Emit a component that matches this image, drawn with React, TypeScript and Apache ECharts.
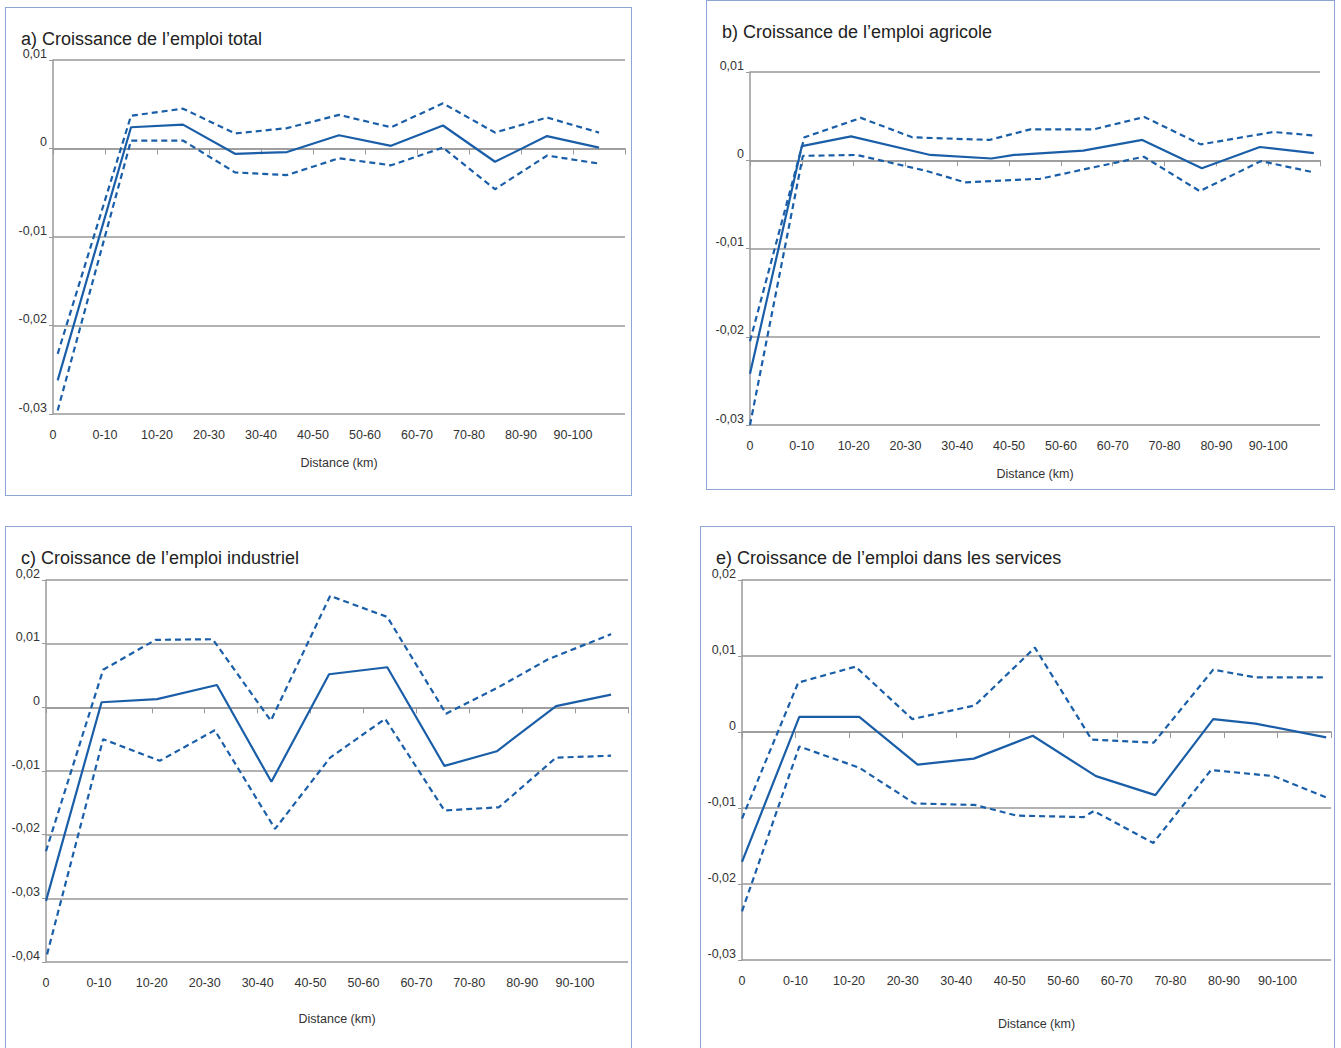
import { useEffect, useRef } from "react";
import * as echarts from "echarts";

const tickLabels = ["0", "0-10", "10-20", "20-30", "30-40", "40-50", "50-60", "60-70", "70-80", "80-90", "90-100", ""];

// a) emploi total
const aX = [0.09, 1.5, 2.5, 3.5, 4.5, 5.5, 6.5, 7.5, 8.5, 9.5, 10.5];
const aMid = [-0.0262, 0.0024, 0.0027, -0.0006, -0.0004, 0.0015, 0.0003, 0.0026, -0.0015, 0.0014, 0.0001];
const aUp = [-0.0232, 0.0037, 0.0045, 0.0017, 0.0023, 0.0038, 0.0024, 0.0051, 0.0018, 0.0035, 0.0018];
const aLow = [-0.0296, 0.0009, 0.0009, -0.0027, -0.003, -0.0011, -0.0019, 0.0001, -0.0046, -0.0008, -0.0017];

// b) emploi agricole
const bXMid = [0, 1.0, 1.95, 3.48, 4.66, 5.1, 6.43, 7.57, 8.72, 9.84, 10.88];
const bMid = [-0.0242, 0.0016, 0.0027, 0.0006, 0.0002, 0.0006, 0.0011, 0.0023, -0.0009, 0.0015, 0.0008];
const bXUp = [0, 1.05, 2.14, 3.13, 4.62, 5.41, 6.63, 7.61, 8.7, 10.1, 10.9];
const bUp = [-0.0205, 0.0026, 0.0048, 0.0026, 0.0023, 0.0035, 0.0035, 0.0049, 0.0018, 0.0032, 0.0028];
const bXLow = [0, 1.02, 2.06, 3.4, 4.15, 5.6, 6.55, 7.6, 8.68, 9.86, 10.9];
const bLow = [-0.03, 0.0005, 0.0006, -0.0012, -0.0025, -0.0021, -0.0009, 0.0004, -0.0035, -0.0001, -0.0014];

// c) emploi industriel
const cXMid = [0, 1.05, 2.1, 3.23, 4.26, 5.35, 6.45, 7.53, 8.52, 9.64, 10.68];
const cMid = [-0.0304, 0.0008, 0.0013, 0.0035, -0.0117, 0.0052, 0.0063, -0.0092, -0.0069, 0.0002, 0.002];
const cXUp = [0, 1.08, 2.07, 3.15, 4.25, 5.37, 6.45, 7.56, 8.56, 9.48, 10.68];
const cUp = [-0.0226, 0.0059, 0.0106, 0.0107, -0.0021, 0.0175, 0.0142, -0.001, 0.0032, 0.0075, 0.0115];
const cXLow = [0.02, 1.08, 2.15, 3.19, 4.33, 5.37, 6.41, 7.53, 8.56, 9.64, 10.68];
const cLow = [-0.0388, -0.005, -0.0084, -0.0036, -0.0191, -0.0079, -0.0018, -0.0162, -0.0157, -0.0079, -0.0076];

// e) emploi dans les services
const eXMid = [0, 1.07, 2.19, 3.28, 4.33, 5.43, 6.61, 7.72, 8.8, 9.59, 10.91];
const eMid = [-0.0171, 0.002, 0.002, -0.0043, -0.0035, -0.0005, -0.0058, -0.0083, 0.0017, 0.0011, -0.0007];
const eXUp = [0, 1.05, 2.12, 3.18, 4.35, 5.47, 6.53, 7.69, 8.8, 9.58, 10.91];
const eUp = [-0.0114, 0.0065, 0.0086, 0.0017, 0.0035, 0.0111, -0.001, -0.0014, 0.0082, 0.0072, 0.0072];
const eXLow = [0, 1.07, 2.19, 3.22, 4.35, 5.13, 6.38, 6.57, 7.68, 8.76, 9.92, 10.91];
const eLow = [-0.0236, -0.0019, -0.0047, -0.0094, -0.0096, -0.011, -0.0112, -0.0104, -0.0146, -0.005, -0.0058, -0.0086];

const zip = (xs: number[], ys: number[]) => xs.map((x, i) => [x, ys[i]]);
const BLUE = "#1a5ea8";
const FONT = "Liberation Sans, Arial, sans-serif";

type PanelProps = {
  title: string;
  box: [number, number, number, number];
  grid: [number, number, number, number]; // left, top, right, bottom in page coords
  yMin: number;
  yMax: number;
  nameGap: number;
  mid: number[][];
  up: number[][];
  low: number[][];
};

function Panel(p: PanelProps) {
  const ref = useRef<HTMLDivElement>(null);
  const [bx, by, bw, bh] = p.box;
  useEffect(() => {
    if (!ref.current) return;
    const chart = echarts.init(ref.current, undefined, { renderer: "svg" });
    const line = (data: number[][], dashed: boolean) => ({
      type: "line",
      data,
      symbol: "none",
      lineStyle: { color: BLUE, width: 2.2, type: dashed ? [6, 4] : "solid" },
      z: 5,
    });
    chart.setOption({
      animation: false,
      title: {
        text: p.title,
        left: 10,
        top: 17,
        textStyle: { fontFamily: FONT, fontSize: 18, fontWeight: "normal", color: "#222" },
      },
      grid: {
        left: p.grid[0] - bx - 1,
        top: p.grid[1] - by - 1,
        width: p.grid[2] - p.grid[0],
        height: p.grid[3] - p.grid[1],
      },
      xAxis: {
        type: "value",
        min: 0,
        max: 11,
        interval: 1,
        name: "Distance (km)",
        nameLocation: "middle",
        nameGap: p.nameGap,
        nameTextStyle: { fontFamily: FONT, fontSize: 12.5, color: "#333" },
        axisLine: { lineStyle: { color: "#999", width: 1.5 } },
        axisTick: { show: true, length: 6, lineStyle: { color: "#999" } },
        axisLabel: {
          fontFamily: FONT,
          fontSize: 12.5,
          color: "#333",
          margin: 14,
          formatter: (v: number) => tickLabels[Math.round(v)] ?? "",
        },
        splitLine: { show: false },
      },
      yAxis: {
        type: "value",
        min: p.yMin,
        max: p.yMax,
        interval: 0.01,
        axisLine: { show: true, lineStyle: { color: "#999", width: 1.5 } },
        axisTick: { show: true, length: 4, lineStyle: { color: "#999" } },
        axisLabel: {
          fontFamily: FONT,
          fontSize: 12.5,
          color: "#333",
          margin: 6,
          verticalAlign: "bottom",
          formatter: (v: number) => (Math.abs(v) < 1e-9 ? "0" : v.toFixed(2).replace(".", ",")),
        },
        splitLine: { show: true, lineStyle: { color: "#999", width: 1.5 } },
      },
      series: [line(p.mid, false), line(p.up, true), line(p.low, true)],
    });
    return () => chart.dispose();
  }, []);
  return (
    <div
      style={{
        position: "absolute",
        left: bx,
        top: by,
        width: bw,
        height: bh,
        border: "1px solid #8ea6d6",
        boxSizing: "border-box",
        background: "#fff",
      }}
    >
      <div ref={ref} style={{ width: bw - 2, height: bh - 2 }} />
    </div>
  );
}

export default function App() {
  return (
    <div style={{ position: "fixed", left: 0, top: 0, width: 1341, height: 1048, overflow: "hidden", background: "#fff" }}>
      <Panel
        title="a) Croissance de l’emploi total"
        box={[5, 7, 627, 489]}
        grid={[53, 60, 625, 414]}
        yMin={-0.03}
        yMax={0.01}
        nameGap={42}
        mid={zip(aX, aMid)}
        up={zip(aX, aUp)}
        low={zip(aX, aLow)}
      />
      <Panel
        title="b) Croissance de l’emploi agricole"
        box={[706, 0, 629, 490]}
        grid={[750, 72, 1320, 425]}
        yMin={-0.03}
        yMax={0.01}
        nameGap={42}
        mid={zip(bXMid, bMid)}
        up={zip(bXUp, bUp)}
        low={zip(bXLow, bLow)}
      />
      <Panel
        title="c) Croissance de l’emploi industriel"
        box={[5, 526, 627, 530]}
        grid={[46, 580, 630, 962]}
        yMin={-0.04}
        yMax={0.02}
        nameGap={50}
        mid={zip(cXMid, cMid)}
        up={zip(cXUp, cUp)}
        low={zip(cXLow, cLow)}
      />
      <Panel
        title="e) Croissance de l’emploi dans les services"
        box={[700, 526, 635, 530]}
        grid={[742, 580, 1334, 960]}
        yMin={-0.03}
        yMax={0.02}
        nameGap={57}
        mid={zip(eXMid, eMid)}
        up={zip(eXUp, eUp)}
        low={zip(eXLow, eLow)}
      />
    </div>
  );
}
